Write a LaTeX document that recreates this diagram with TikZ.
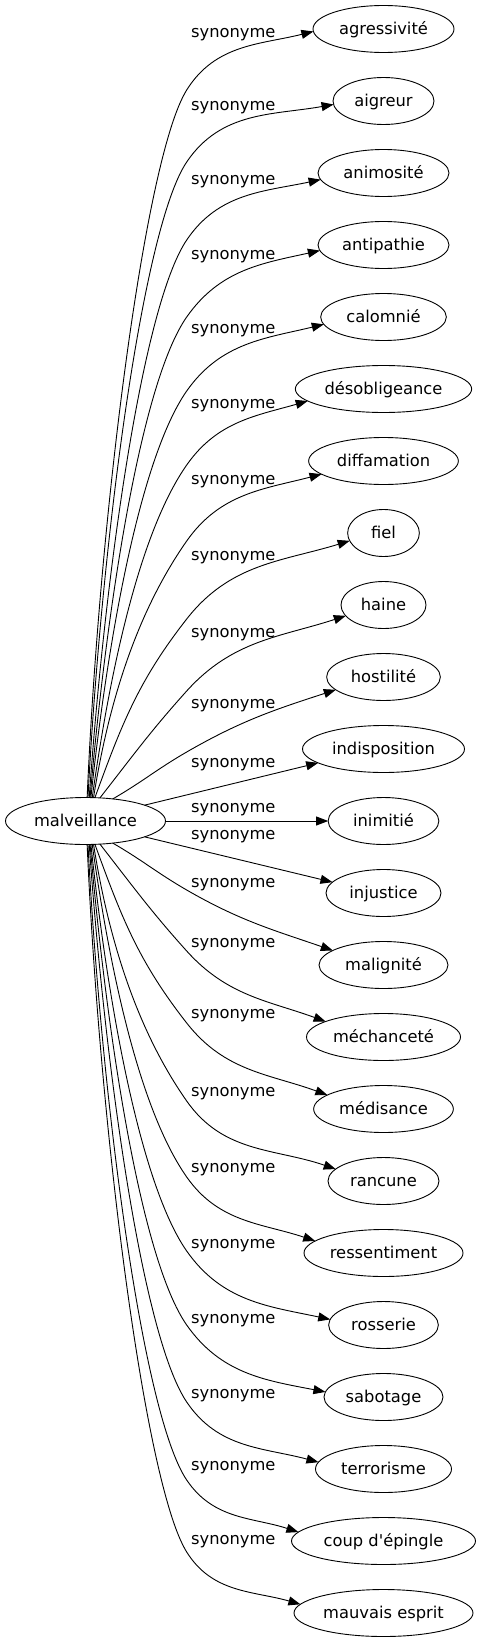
\documentclass[tikz,border=0pt]{standalone}
\usepackage{fontspec}
\newfontfamily\dv{DejaVu Sans}[Ligatures=TeXOff]
\usetikzlibrary{arrows.meta,shapes.geometric}
\begin{document}
\begin{tikzpicture}[x=1pt,y=1pt,
  txt/.style={font=\dv\fontsize{16.3}{19.5}\selectfont},
  word/.style={txt, ellipse, draw, line width=0.9pt, minimum height=47pt,
    inner sep=1pt, outer sep=0pt, text height=14pt, text depth=3pt},
  lab/.style={txt, anchor=mid, inner sep=0pt},
  syn/.style={-{Triangle[length=12pt,width=9pt]}, line width=0.9pt}
]
\useasboundingbox (0,0) rectangle (481,-1643);

\node[word, minimum width=160pt] (m) at (85.5,-821) {malveillance};

\node[word, minimum width=141pt] (t0) at (383.5,-29) {agressivité};
\node[word, minimum width=101pt] (t1) at (383.5,-101) {aigreur};
\node[word, minimum width=131pt] (t2) at (383.5,-173) {animosité};
\node[word, minimum width=131pt] (t3) at (383.5,-245) {antipathie};
\node[word, minimum width=125.7pt] (t4) at (383.5,-317) {calomnié};
\node[word, minimum width=176.3pt] (t5) at (383.5,-389) {désobligeance};
\node[word, minimum width=149.7pt] (t6) at (383.5,-461) {diffamation};
\node[word, minimum width=71.7pt] (t7) at (383.5,-533) {fiel};
\node[word, minimum width=85pt] (t8) at (383.5,-605) {haine};
\node[word, minimum width=113.7pt] (t9) at (383.5,-677) {hostilité};
\node[word, minimum width=162pt] (t10) at (383.5,-749) {indisposition};
\node[word, minimum width=110.7pt] (t11) at (383.5,-821) {inimitié};
\node[word, minimum width=115pt] (t12) at (383.5,-893) {injustice};
\node[word, minimum width=129pt] (t13) at (383.5,-965) {malignité};
\node[word, minimum width=154pt] (t14) at (383.5,-1037) {méchanceté};
\node[word, minimum width=139.7pt] (t15) at (383.5,-1109) {médisance};
\node[word, minimum width=111pt] (t16) at (383.5,-1181) {rancune};
\node[word, minimum width=159pt] (t17) at (383.5,-1253) {ressentiment};
\node[word, minimum width=109.7pt] (t18) at (383.5,-1325) {rosserie};
\node[word, minimum width=119pt] (t19) at (383.5,-1397) {sabotage};
\node[word, minimum width=136pt] (t20) at (383.5,-1469) {terrorisme};
\node[word, minimum width=184pt] (t21) at (383.5,-1541) {coup d'épingle};
\node[word, minimum width=179pt] (t22) at (383.5,-1613) {mauvais esprit};

\node[lab] (l0) at (233.3,-35) {synonyme};
\node[lab] (l1) at (233.3,-108) {synonyme};
\node[lab] (l2) at (233.3,-182) {synonyme};
\node[lab] (l3) at (233.3,-257.7) {synonyme};
\node[lab] (l4) at (233.3,-331.7) {synonyme};
\node[lab] (l5) at (233.3,-406) {synonyme};
\node[lab] (l6) at (233.3,-482.7) {synonyme};
\node[lab] (l7) at (233.3,-558.3) {synonyme};
\node[lab] (l8) at (233.3,-635) {synonyme};
\node[lab] (l9) at (233.3,-706.7) {synonyme};
\node[lab] (l10) at (233.3,-765) {synonyme};
\node[lab] (l11) at (233.3,-810) {synonyme};
\node[lab] (l12) at (233.3,-837) {synonyme};
\node[lab] (l13) at (233.3,-885) {synonyme};
\node[lab] (l14) at (233.3,-945) {synonyme};
\node[lab] (l15) at (233.3,-1016.7) {synonyme};
\node[lab] (l16) at (233.3,-1094) {synonyme};
\node[lab] (l17) at (233.3,-1170) {synonyme};
\node[lab] (l18) at (233.3,-1246) {synonyme};
\node[lab] (l19) at (233.3,-1321.7) {synonyme};
\node[lab] (l20) at (233.3,-1396) {synonyme};
\node[lab] (l21) at (233.3,-1468) {synonyme};
\node[lab] (l22) at (233.3,-1542) {synonyme};

% upper edges
\draw[syn] (m.86.4) to[out=87.5,in=238,in distance=80pt] (186.7,-90) to[out=58,in=194] (t0.182.2);
\draw[syn] (m.84) to[out=87,in=236,in distance=80pt] (186.7,-162) to[out=56,in=190] (t1.184.3);
\draw[syn] (m.81.7) to[out=86,in=236,in distance=80pt] (186.7,-240) to[out=56,in=192] (t2.186);
\draw[syn] (m.79.4) to[out=85,in=235,in distance=80pt] (186.7,-317) to[out=55,in=192.5] (t3.185.9);
\draw[syn] (m.77) to[out=84,in=235,in distance=80pt] (186.7,-391) to[out=55,in=193.6] (t4.187.4);
\draw[syn] (m.74.8) to[out=82,in=235,in distance=80pt] (186.7,-465) to[out=55,in=196] (t5.189.6);
\draw[syn] (m.71.9) to[out=81,in=235,in distance=80pt] (186.7,-541) to[out=55,in=194.6] (t6.192.1);
\draw[syn] (m.68.3) to[out=70,in=232] (186.7,-619) to[out=52,in=197] (t7.193.9);
\draw[syn] (m.58.4) to[out=52,in=228] (186.7,-691) to[out=48,in=198] (t8.196.2);
\draw[syn] (m.39) to[out=30,in=210] (186.7,-752) to[out=30,in=198] (t9.195);
\draw[syn] (m.15.5) -- (t10.192.8);
% middle
\draw[syn] (m.east) -- (t11.west);
% lower edges
\draw[syn] (m.-15.5) -- (t12.168.7);
\draw[syn] (m.-39) to[out=-30,in=150] (186.7,-890) to[out=-30,in=161] (t13.164.3);
\draw[syn] (m.-58.4) to[out=-52,in=132] (186.7,-951) to[out=-48,in=160] (t14.165.7);
\draw[syn] (m.-68.3) to[out=-70,in=128] (186.7,-1023) to[out=-52,in=160] (t15.166.9);
\draw[syn] (m.-71.9) to[out=-81,in=125,in distance=80pt] (186.7,-1101) to[out=-55,in=161] (t16.166.2);
\draw[syn] (m.-74.8) to[out=-82,in=125,in distance=80pt] (186.7,-1177) to[out=-55,in=161.5] (t17.170.9);
\draw[syn] (m.-77) to[out=-84,in=125,in distance=80pt] (186.7,-1251) to[out=-55,in=168] (t18.174.8);
\draw[syn] (m.-79.4) to[out=-85,in=125,in distance=80pt] (186.7,-1325) to[out=-55,in=169] (t19.175);
\draw[syn] (m.-81.7) to[out=-86,in=124,in distance=80pt] (186.7,-1402) to[out=-56,in=165] (t20.174.8);
\draw[syn] (m.-84) to[out=-87,in=124,in distance=80pt] (186.7,-1480) to[out=-56,in=162] (t21.174);
\draw[syn] (m.-86.4) to[out=-87.5,in=122,in distance=80pt] (186.7,-1552) to[out=-58,in=164] (t22.174.8);
\end{tikzpicture}
\end{document}
